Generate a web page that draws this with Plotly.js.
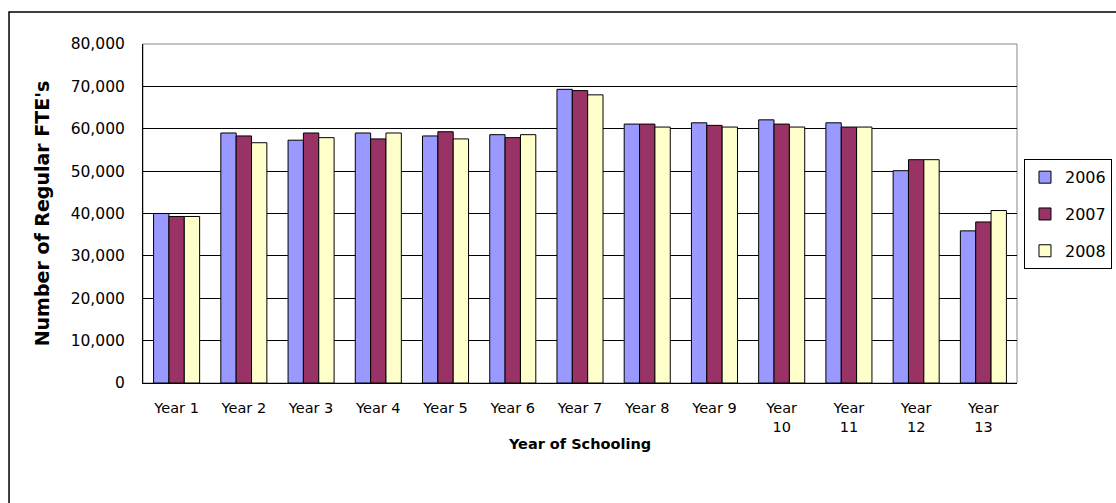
<!DOCTYPE html>
<html>
<head>
<meta charset="utf-8">
<script src="https://cdn.plot.ly/plotly-3.0.1.min.js"></script>
<style>
html,body{margin:0;padding:0;background:#fff;}
#chart{width:1116px;height:503px;}
</style>
</head>
<body>
<div id="chart"></div>
<script>
const categories = ["Year 1","Year 2","Year 3","Year 4","Year 5","Year 6","Year 7","Year 8","Year 9","Year<br>10","Year<br>11","Year<br>12","Year<br>13"];
const seriesNames = ["2006","2007","2008"];
const values2006 = [40000,59000,57300,59000,58300,58600,69300,61100,61400,62100,61400,50100,35900];
const values2007 = [39300,58300,59000,57600,59300,57900,69000,61100,60800,61100,60400,52700,38000];
const values2008 = [39300,56700,57900,59000,57600,58600,68000,60400,60400,60400,60400,52700,40700];
const yTicks = [0,10000,20000,30000,40000,50000,60000,70000,80000];

const colors = ["#9999FF","#993366","#FFFFCC"];
const allValues = [values2006, values2007, values2008];

const traces = allValues.map((v,i)=>({
  type:"bar",
  name: seriesNames[i],
  x: categories,
  y: v,
  legendgroup: "g"+i,
  marker:{color:colors[i], line:{color:"#000", width:1}},
  hoverinfo:"x+y+name"
}));

const FONT = "DejaVu Sans, Liberation Sans, Arial, sans-serif";

const layout = {
  width:1116, height:503,
  margin:{l:143, r:99, t:44, b:120, pad:0, autoexpand:false},
  paper_bgcolor:"#fff", plot_bgcolor:"#fff",
  font:{family:FONT, color:"#000", size:14},
  barmode:"group",
  bargap:0.315,
  bargroupgap:0,
  xaxis:{
    type:"category",
    showgrid:false,
    showline:true, linecolor:"#000", linewidth:1,
    ticks:"", tickfont:{size:14.5},
    ticklabelstandoff:12,
    title:{text:"Year of Schooling", font:{size:14.5, weight:"bold"}, standoff:4},
    automargin:false
  },
  yaxis:{
    range:[0,80000],
    tickvals:yTicks,
    tickformat:",d",
    showgrid:true, gridcolor:"#000", gridwidth:1,
    zeroline:false,
    showline:true, linecolor:"#000", linewidth:1,
    ticks:"", tickfont:{size:15.5},
    ticklabelstandoff:14,
    title:{text:"Number of Regular FTE's", font:{size:19, weight:"bold"}, standoff:16},
    automargin:false
  },
  legend:{
    x:1.008, y:0.66, xanchor:"left", yanchor:"top",
    bordercolor:"#000", borderwidth:1,
    font:{size:16},
    itemwidth:30,
    tracegroupgap:13,
    bgcolor:"#fff"
  },
  showlegend:true,
  shapes:[
    {type:"rect", xref:"paper", yref:"paper", x0:0, x1:1, y0:0, y1:1, line:{color:"#888", width:1}, layer:"below"},
    {type:"rect", xref:"paper", yref:"paper", x0:-0.1533, x1:1.2, y0:-0.5, y1:1.0945, line:{color:"#000", width:1.5}, fillcolor:"rgba(0,0,0,0)"}
  ]
};

Plotly.newPlot("chart", traces, layout, {displayModeBar:false, staticPlot:true});
</script>
</body>
</html>
